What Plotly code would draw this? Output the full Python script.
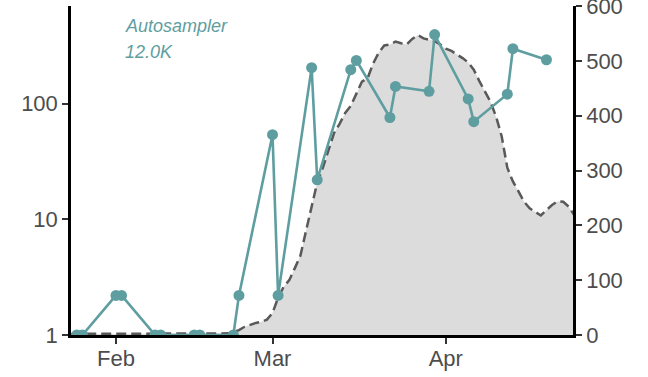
import pandas as pd
import plotly.graph_objects as go

# Gray area (right axis, linear) — daily values Jan 24 .. Apr 24
area_start = "2021-01-24"
area_values = (
    [2] * 8 +            # Jan 24 - Jan 31
    [2] * 19 +           # Feb 1 - Feb 19
    [2, 3, 5, 9, 15, 19, 22, 24, 28] +   # Feb 20 - Feb 28
    [40, 68, 88, 100, 122, 145, 190, 235, 278, 305, 335, 368, 385, 405, 418,
     440, 462, 468, 495, 515, 528, 530, 535, 532, 530, 540, 547, 541, 538, 536, 530] +  # March
    [522, 518, 512, 505, 497, 484, 463, 445, 425, 398, 362, 305, 280, 262, 243,
     231, 224, 218, 228, 237, 244, 243, 234, 218]  # Apr 1 - Apr 24
)
area_dates = pd.date_range(area_start, periods=len(area_values), freq="D")

# Autosampler samples (left axis, log)
sample_dates = ["2021-01-25", "2021-01-26", "2021-02-01", "2021-02-02", "2021-02-08",
                "2021-02-09", "2021-02-15", "2021-02-16", "2021-02-22", "2021-02-23",
                "2021-03-01", "2021-03-02", "2021-03-08", "2021-03-09", "2021-03-15",
                "2021-03-16", "2021-03-22", "2021-03-23", "2021-03-29", "2021-03-30",
                "2021-04-05", "2021-04-06", "2021-04-12", "2021-04-13", "2021-04-19"]
sample_values = [1, 1, 2.2, 2.2, 1, 1, 1, 1, 1, 2.2,
                 54, 2.2, 205, 22, 197, 237, 76, 141, 128, 396,
                 110, 70, 121, 299, 240]

x_tick_vals = ["2021-02-01", "2021-03-01", "2021-04-01"]
x_tick_text = ["Feb", "Mar", "Apr"]
left_tick_vals = [1, 10, 100]
left_tick_text = ["1", "10", "100"]
right_tick_vals = [0, 100, 200, 300, 400, 500, 600]

teal = "#5F9EA0"
font_family = "Liberation Sans, Arial, Helvetica, sans-serif"

fig = go.Figure()
fig.add_trace(go.Scatter(
    x=area_dates, y=area_values, mode="lines", yaxis="y",
    fill="tozeroy", fillcolor="#DCDCDC",
    line=dict(color="#595959", width=2.5, dash="10px,5px"),
    hoverinfo="skip", showlegend=False,
))
fig.add_trace(go.Scatter(
    x=sample_dates, y=sample_values, mode="lines+markers", yaxis="y2",
    line=dict(color=teal, width=2.6),
    marker=dict(color=teal, size=11),
    showlegend=False,
))

axis_common = dict(
    showgrid=False, zeroline=False, showline=True, linecolor="black", linewidth=2.5,
    ticks="outside", ticklen=6, tickwidth=2, tickcolor="#333333", automargin=False,
    ticklabeloverflow="allow",
    tickfont=dict(size=22, color="#4D4D4D", family=font_family),
)

fig.update_layout(
    width=648, height=377,
    margin=dict(l=71, r=75, t=6, b=42),
    paper_bgcolor="white", plot_bgcolor="white",
    font=dict(family=font_family),
    xaxis=dict(type="date", range=["2021-01-23 23:00", "2021-04-23 18:00"],
               tickvals=x_tick_vals, ticktext=x_tick_text, ticklabelstandoff=-4,
               **axis_common),
    yaxis=dict(side="right", range=[0, 600], tickvals=right_tick_vals, **axis_common),
    yaxis2=dict(type="log", side="left", overlaying="y", range=[0, 2.8451],
                tickvals=left_tick_vals, ticktext=left_tick_text, **axis_common),
    annotations=[
        dict(text="<i>Autosampler</i>", xref="paper", yref="paper", x=0.1036, y=0.939,
             xanchor="left", yanchor="middle", showarrow=False,
             font=dict(size=18, color=teal, family=font_family)),
        dict(text="<i>12.0K</i>", xref="paper", yref="paper", x=0.1036, y=0.860,
             xanchor="left", yanchor="middle", showarrow=False,
             font=dict(size=18, color=teal, family=font_family)),
    ],
)

fig.write_html("out.html", config={"displayModeBar": False},
               post_script="document.body.style.margin='0px';")
